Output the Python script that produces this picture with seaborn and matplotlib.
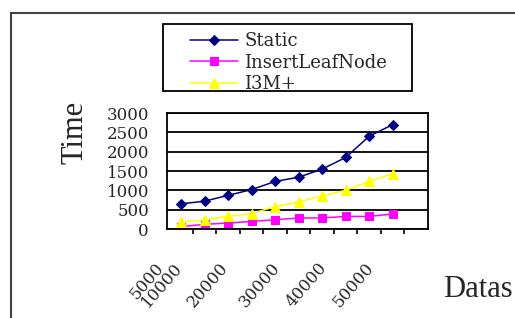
import matplotlib
matplotlib.use("Agg")
import matplotlib.pyplot as plt
from matplotlib.patches import Rectangle
from matplotlib.ticker import FixedLocator
import pandas as pd
import seaborn as sns

# data
series_names = ["Static", "InsertLeafNode", "I3M+"]
static_time = [650, 720, 870, 1020, 1230, 1340, 1550, 1850, 2400, 2700]
insert_time = [60, 120, 155, 195, 240, 285, 285, 325, 325, 390]
i3m_time = [180, 230, 330, 400, 580, 700, 860, 1000, 1230, 1430]
n_categories = 11
x_labels = ["5000", "10000", "20000", "30000", "40000", "50000"]
x_label_pos = [-0.6, 0.2, 2.15, 4.35, 6.35, 8.35]
y_ticks = [0, 500, 1000, 1500, 2000, 2500, 3000]

colors = ["#000080", "#FF00FF", "#FFFF00"]
markers = ["D", "s", "^"]
msizes = [5, 6, 7]

sns.set_style("white")
plt.rcParams["font.family"] = ["DejaVu Serif"]

fig = plt.figure(figsize=(5.15, 3.18), dpi=100)
ax = fig.add_axes([167 / 515, 1 - 229 / 318, 261 / 515, 116 / 318])

rows = []
for name, vals in zip(series_names, [static_time, insert_time, i3m_time]):
    for i, v in enumerate(vals):
        rows.append({"idx": i, "time": v, "method": name})
df = pd.DataFrame(rows)

for name, c, m, ms in zip(series_names, colors, markers, msizes):
    sub = df[df["method"] == name]
    sns.lineplot(data=sub, x="idx", y="time", color=c, marker=m, markersize=ms,
                 markeredgecolor=c, linewidth=1.1, ax=ax, label=name, legend=False)

ax.set_xlim(-0.5, n_categories - 0.5)
ax.set_ylim(0, 3000)
ax.set_xlabel("")
ax.set_ylabel("")

ax.set_yticks(y_ticks)
ax.set_yticklabels([str(t) for t in y_ticks], fontsize=12)
ax.tick_params(axis="y", length=0, pad=13)
ax.yaxis.grid(True, color="black", linewidth=1.3)
ax.xaxis.grid(False)

ax.set_xticks(x_label_pos)
ax.set_xticklabels(x_labels, rotation=49, ha="right", va="top", fontsize=12)
ax.xaxis.set_minor_locator(FixedLocator([i + 0.5 for i in range(n_categories - 1)]))
ax.tick_params(axis="x", which="major", length=0, pad=22)
ax.tick_params(axis="x", which="minor", length=3.5, width=1.2, color="black",
               direction="out", bottom=True)

for sp in ax.spines.values():
    sp.set_color("black")
    sp.set_linewidth(1.3)

# axis titles
fig.text(75 / 515, 1 - 132 / 318, "Time", rotation=90, ha="center", va="center",
         fontsize=22, family="Liberation Serif")
fig.text(443 / 515, 1 - 297 / 318, "Datas", ha="left", va="baseline",
         fontsize=22, family="Liberation Serif")

# outer frame
fig.add_artist(Rectangle((11 / 515, -0.2), 1.2, 1.2 - 13 / 318, transform=fig.transFigure,
                         fill=False, edgecolor="#444444", linewidth=1.5))

# legend box
fig.add_artist(Rectangle((163 / 515, 1 - 91 / 318), 249 / 515, 67 / 318,
                         transform=fig.transFigure, fill=False,
                         edgecolor="black", linewidth=1.3))
h, l = ax.get_legend_handles_labels()
fig.legend(h, l, loc="upper left", bbox_to_anchor=(190 / 515, 1 - 32 / 318),
           frameon=False, fontsize=13, handlelength=2.65, handletextpad=0.35,
           labelspacing=0.2, borderpad=0, borderaxespad=0)

fig.savefig("out.png", dpi=100)
